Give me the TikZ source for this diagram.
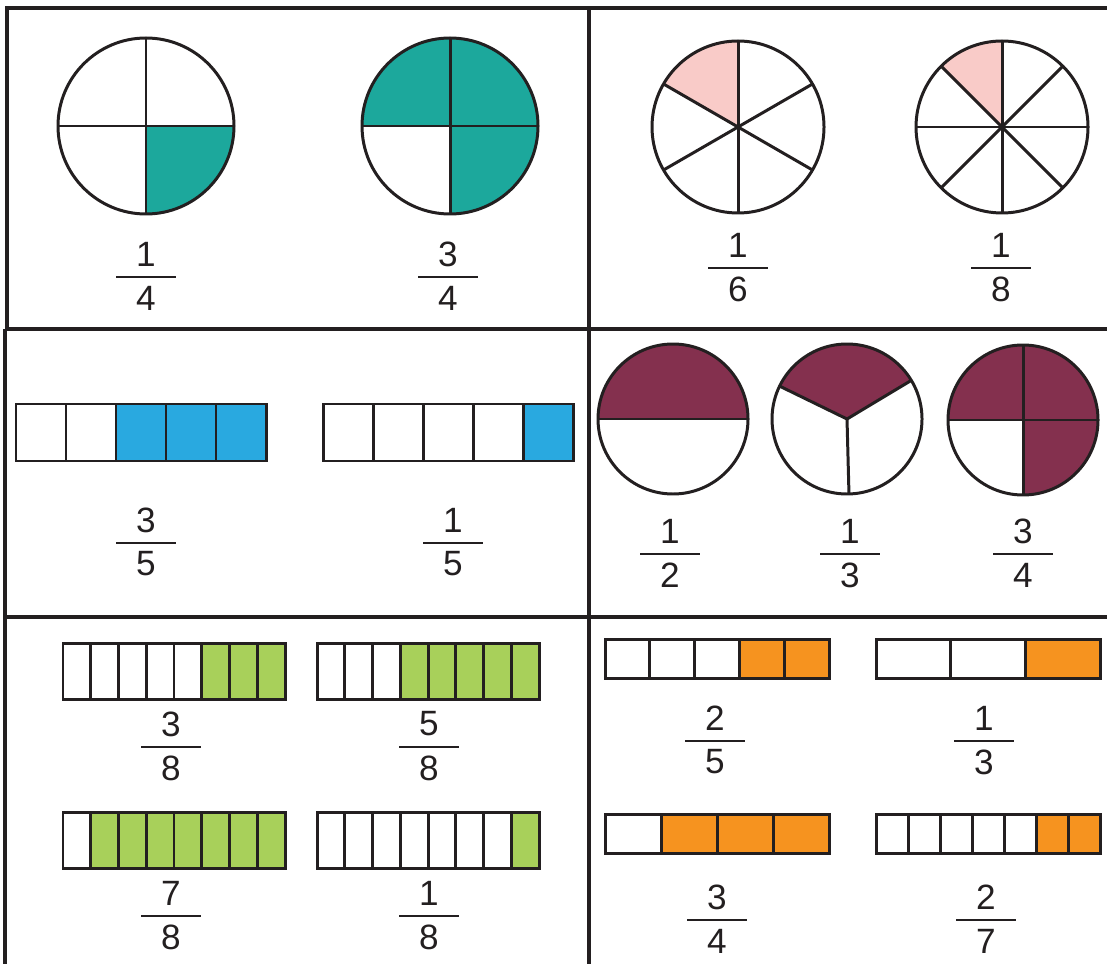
\documentclass[tikz,border=0pt]{standalone}
\usepackage{fontspec}
\setmainfont{Liberation Sans}
\usepackage{tikz}

\definecolor{linie}{HTML}{231F20}
\definecolor{tuerkis}{HTML}{1CA89C}
\definecolor{rosa}{HTML}{F9CBC8}
\definecolor{blau}{HTML}{29A9E0}
\definecolor{weinrot}{HTML}{84304E}
\definecolor{gruen}{HTML}{A8D05A}
\definecolor{orangeton}{HTML}{F6931F}

\tikzset{
    rahmen/.style={line width=1.1pt},
    ziffer/.style={inner sep=0pt,font=\fontsize{10}{12}\selectfont},
    bruchstrich/.style={line width=0.8pt}
}

\begin{document}
\begin{tikzpicture}[x=0.01cm,y=-0.01cm,color=linie,line width=0.85pt]
    \useasboundingbox (0,0) rectangle (1107,964);

    % Rahmen der sechs Felder
    \draw[rahmen] (7,329) -- (7,8) -- (1107,8);
    \draw[rahmen] (5,329) -- (1107,329);
    \draw[rahmen] (5,617) -- (1107,617);
    \draw[rahmen] (5,329) -- (5,964);
    \draw[rahmen] (589,8) -- (589,964);

    % Kreise mit gefaerbtem Anteil
    \foreach \cx/\cy/\r/\von/\bis/\farbe/\speichen in {
        146/126/88/270/360/tuerkis/{0,90,180,270},
        450/126/88/270/540/tuerkis/{0,90,180,270},
        738/127/86/90/150/rosa/{30,90,150,210,270,330},
        1002/127/86/90/135/rosa/{0,45,...,315},
        673/419/75/0/180/weinrot/{0,180},
        847/419/75/31/154/weinrot/{31,154,271.5},
        1023/420/75/270/540/weinrot/{0,90,180,270}} {
        \fill[\farbe] (\cx,\cy) -- +(-\von:\r) arc[start angle=-\von, end angle=-\bis, radius=\r] -- cycle;
        \foreach \a in \speichen {
            \draw (\cx,\cy) -- +(-\a:\r);
        }
        \draw (\cx,\cy) circle[radius=\r];
    }

    % Streifen, die letzten \k Zellen gefaerbt
    \foreach \x/\y/\w/\h/\n/\k/\farbe in {
        16/404/250/57/5/3/blau,
        323/404/250/57/5/1/blau,
        63/643/222/56/8/3/gruen,
        317/643/222/56/8/5/gruen,
        63/812/222/56/8/7/gruen,
        317/812/222/56/8/1/gruen,
        605/639/224/39/5/2/orangeton,
        876/639/224/39/3/1/orangeton,
        605/814/224/39/4/3/orangeton,
        876/814/224/39/7/2/orangeton} {
        \foreach \i in {1,...,\n} {
            \ifnum\i>\numexpr\n-\k\relax \def\fb{\farbe}\else\def\fb{white}\fi
            \draw[fill=\fb] ({\x+\w*(\i-1)/\n},\y) rectangle ++({\w/\n},\h);
        }
    }

    % Brueche unter den Bildern
    \foreach \x/\y/\z/\n [count=\k] in {
        146/277/1/4, 448/277/3/4, 738/268/1/6, 1001/268/1/8,
        146/543/3/5, 453/543/1/5, 670/554/1/2, 850/554/1/3, 1023/554/3/4,
        171/747/3/8, 429/747/5/8, 171/916/7/8, 429/916/1/8,
        715/741/2/5, 984/741/1/3, 717/920/3/4, 986/920/2/7} {
        \node[ziffer] (zaehler\k) at (\x,\y-23) {\z};
        \node[ziffer] (nenner\k) at (\x,\y+21) {\n};
        \draw[bruchstrich] (\x-30,\y) -- (\x+30,\y);
    }
\end{tikzpicture}
\end{document}
